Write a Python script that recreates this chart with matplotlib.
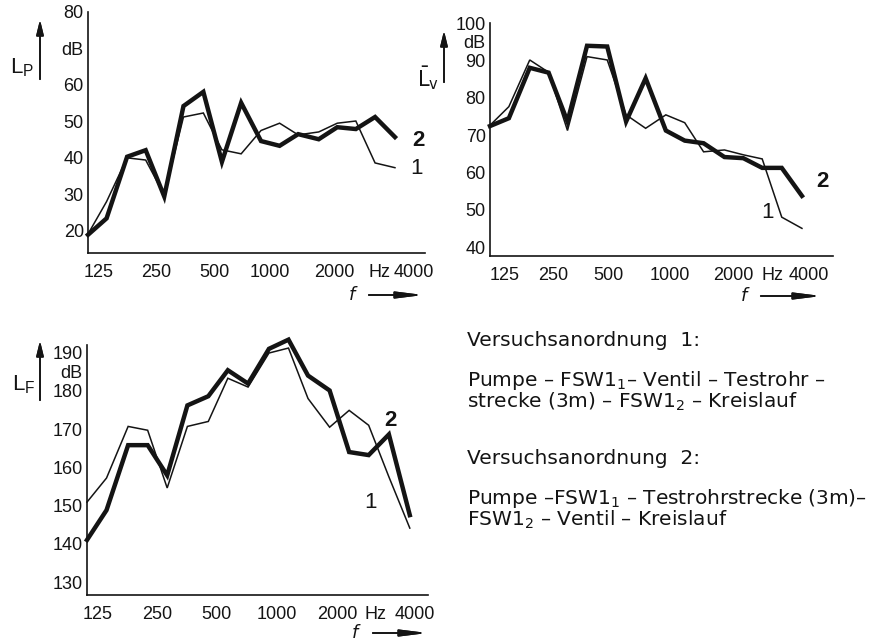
import matplotlib
matplotlib.use("Agg")
import matplotlib.pyplot as plt
from matplotlib.transforms import ScaledTranslation

# third-octave band centre frequencies (Hz)
freqs = [100, 125, 160, 200, 250, 315, 400, 500, 630, 800,
         1000, 1250, 1600, 2000, 2500, 3150, 4000]

# L_P in dB, Versuchsanordnung 1 (thin) and 2 (thick)
lp_1 = [19.1, 28.0, 40.0, 39.4, 29.8, 51.2, 52.3, 42.2, 41.1, 47.5,
        49.5, 46.3, 47.1, 49.5, 50.1, 38.6, 37.3]
lp_2 = [18.9, 23.4, 40.3, 42.1, 29.4, 54.2, 58.1, 38.9, 55.1, 44.6,
        43.3, 46.5, 45.1, 48.4, 47.9, 51.2, 45.7]

# mean L_v in dB
lv_1 = [72.6, 77.6, 90.1, 86.8, 71.2, 91.0, 90.1, 75.4, 71.8, 75.4,
        73.3, 65.5, 66.0, 64.7, 63.6, 48.0, 45.0]
lv_2 = [72.4, 74.5, 88.0, 86.7, 73.6, 93.9, 93.7, 73.6, 85.2, 71.2,
        68.5, 67.8, 64.1, 63.8, 61.2, 61.2, 53.7]

# L_F in dB
lf_1 = [150.9, 157.2, 170.7, 169.7, 154.6, 170.7, 172.0, 183.3, 181.0, 189.9,
        191.2, 178.0, 170.5, 174.9, 171.0, 157.5, 144.1]
lf_2 = [141.0, 148.8, 165.8, 165.8, 157.9, 176.2, 178.6, 185.4, 181.9, 191.0,
        193.4, 184.0, 180.1, 164.0, 163.2, 168.6, 147.5]

x_ticks = [125, 250, 500, 1000, 2000, 2800, 4000]
x_tick_labels = ["125", "250", "500", "1000", "2000", "Hz", "4000"]

W, H = 879, 644
INK = "#141414"
NUM_FONT = ["Liberation Sans", "DejaVu Sans"]


def box(left, top, right, bottom):
    # pixel box (top-left origin) -> figure fraction rect
    return [left / W, 1 - bottom / H, (right - left) / W, (bottom - top) / H]


def fpos(x, y):
    return (x / W, 1 - y / H)


fig = plt.figure(figsize=(W / 100, H / 100), dpi=100)
fig.patch.set_facecolor("white")

# xshift: the hand-lettered tick labels sit a few pixels off their frequencies
panels = [
    dict(rect=box(88, 12, 425, 253), ylim=(13.9, 80), xmax=5740,
         yticks=[20, 30, 40, 50, 60, 70, 80],
         ylabels=["20", "30", "40", "50", "60", "dB", "80"],
         thin=lp_1, thick=lp_2,
         xshift={"125": -8, "250": -8, "500": -7, "1000": -10, "2000": -3,
                 "Hz": 14, "4000": 19}),
    dict(rect=box(490, 23, 833, 256), ylim=(37.6, 100), xmax=5775,
         yticks=[40, 50, 60, 70, 80, 90, 95, 100],
         ylabels=["40", "50", "60", "70", "80", "90", "dB", "100"],
         thin=lv_1, thick=lv_2,
         xshift={"125": -4, "250": -14, "500": -18, "1000": -15, "2000": -10,
                 "Hz": 1, "4000": 7}),
    dict(rect=box(87, 345, 428, 595), ylim=(126.6, 192), xmax=4925,
         yticks=[130, 140, 150, 160, 170, 180, 185, 190],
         ylabels=["130", "140", "150", "160", "170", "180", "dB", "190"],
         thin=lf_1, thick=lf_2,
         xshift={"125": -9, "250": -10, "500": -11, "1000": -12, "2000": -12,
                 "Hz": -3, "4000": 5}),
]

for p in panels:
    ax = fig.add_axes(p["rect"])
    ax.plot(freqs, p["thin"], color=INK, lw=1.1, clip_on=False,
            solid_joinstyle="miter")
    ax.plot(freqs, p["thick"], color=INK, lw=3.2, clip_on=False,
            solid_joinstyle="miter")
    ax.set_xscale("log")
    ax.set_xlim(100, p["xmax"])
    ax.set_ylim(*p["ylim"])
    ax.set_xticks(x_ticks)
    ax.set_xticklabels(x_tick_labels)
    ax.minorticks_off()
    ax.set_yticks(p["yticks"])
    ax.set_yticklabels(p["ylabels"])
    ax.tick_params(length=0, labelsize=13, colors=INK)
    ax.tick_params(axis="x", pad=8)
    ax.tick_params(axis="y", pad=3)
    for lab in ax.get_xticklabels() + ax.get_yticklabels():
        lab.set_family(NUM_FONT)
    for lab in ax.get_xticklabels():
        dx = p["xshift"].get(lab.get_text(), 0)
        if dx:
            lab.set_transform(lab.get_transform() +
                              ScaledTranslation(dx / 100, 0, fig.dpi_scale_trans))
    for side in ["top", "right"]:
        ax.spines[side].set_visible(False)
    for side in ["left", "bottom"]:
        ax.spines[side].set_linewidth(1.2)
        ax.spines[side].set_color(INK)
    ax.patch.set_alpha(0)

# y-axis quantity labels with upward arrows
arrow_kw = dict(arrowstyle="-|>,head_length=0.9,head_width=0.22", color=INK, lw=1.2)
for (x, y0, y1) in [(40, 82, 17), (444, 85, 28), (40, 403, 338)]:
    fig.add_artist(plt.annotate("", xy=fpos(x, y1), xytext=fpos(x, y0),
                                xycoords="figure fraction", arrowprops=arrow_kw))
fig.text(*fpos(22, 68), r"L$_\mathregular{P}$", fontsize=16, ha="center", va="center",
         color=INK, family=NUM_FONT)
fig.text(*fpos(428, 78), r"$\bar{\mathregular{L}}_\mathregular{v}$", fontsize=15,
         ha="center", va="center", color=INK)
fig.text(*fpos(24, 385), r"L$_\mathregular{F}$", fontsize=16, ha="center", va="center",
         color=INK, family=NUM_FONT)

# frequency axis labels "f ->"
f_arrow = dict(arrowstyle="-|>,head_length=1.6,head_width=0.2", color=INK, lw=1.2)
for (xf, y, x0, x1) in [(352, 295, 366, 426), (744, 296, 758, 824), (355, 633, 370, 430)]:
    fig.text(*fpos(xf, y), "f", fontsize=13, style="italic", ha="center", va="center",
             color=INK)
    fig.add_artist(plt.annotate("", xy=fpos(x1, y), xytext=fpos(x0, y),
                                xycoords="figure fraction", arrowprops=f_arrow))

# curve numbers
for (t, x, y) in [("2", 418, 140), ("1", 417, 168), ("2", 822, 182), ("1", 768, 212),
                  ("2", 390, 420), ("1", 370, 503)]:
    fig.text(*fpos(x, y), t, fontsize=16, ha="center", va="center", color=INK,
             family=NUM_FONT, weight="bold" if t == "2" else "normal")

# description of the two test arrangements
desc = [
    (467, 340, "Versuchsanordnung  1:"),
    (467, 380, r"Pumpe – FSW1$_1$– Ventil – Testrohr –"),
    (467, 402, r"strecke (3m) – FSW1$_2$ – Kreislauf"),
    (467, 458, "Versuchsanordnung  2:"),
    (467, 498, r"Pumpe –FSW1$_1$ – Testrohrstrecke (3m)–"),
    (467, 520, r"FSW1$_2$ – Ventil – Kreislauf"),
]
for (x, y, t) in desc:
    fig.text(*fpos(x, y), t, fontsize=14.5, ha="left", va="center", color=INK)

fig.savefig("out.png", dpi=100)
